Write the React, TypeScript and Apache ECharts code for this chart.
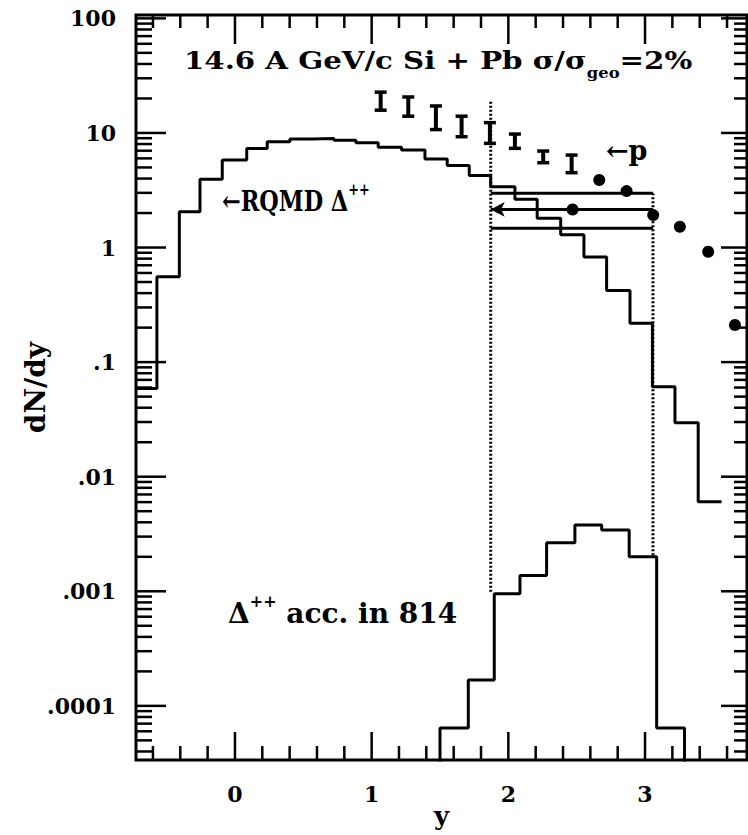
import React, { useEffect, useRef } from "react";
import * as echarts from "echarts";

// ---- axis ranges ----
const X_MIN = -0.724;
const X_MAX = 3.746;
const Y_MIN = 3.37e-5;
const Y_MAX = 107;

// ---- tick values and labels ----
const xMajorTicks = [0, 1, 2, 3];
const xTickLabels = ["0", "1", "2", "3"];
const xMinorTicks = [-0.6, -0.4, -0.2, 0.2, 0.4, 0.6, 0.8, 1.2, 1.4, 1.6, 1.8, 2.2, 2.4, 2.6, 2.8, 3.2, 3.4, 3.6];
const yDecades = [1e-4, 1e-3, 1e-2, 1e-1, 1, 10, 100];
const yTickLabels = [".0001", ".001", ".01", ".1", "1", "10", "100"];
const yMinorBases = [1e-5, 1e-4, 1e-3, 1e-2, 1e-1, 1, 10];
const yMinorMultipliers = [2, 3, 4, 5, 6, 7, 8, 9];

// ---- RQMD Delta++ histogram (bin edges in y, dN/dy) ----
const rqmdEdges = [-0.724, -0.571, -0.407, -0.256, -0.093, 0.086, 0.236, 0.402, 0.563, 0.724, 0.885, 1.048, 1.219, 1.39, 1.553, 1.714, 1.871, 2.048, 2.211, 2.383, 2.553, 2.719, 2.89, 3.054, 3.219, 3.389, 3.56];
const rqmdValues = [0.059, 0.556, 2.05, 3.94, 5.8, 7.33, 8.4, 8.85, 8.93, 8.62, 8.2, 7.5, 7.1, 5.92, 5.2, 4.25, 3.4, 2.64, 1.8, 1.29, 0.828, 0.421, 0.218, 0.061, 0.0296, 0.00605];

// ---- Delta++ accepted in E814 ----
const accEdges = [1.5, 1.707, 1.897, 2.085, 2.28, 2.487, 2.683, 2.884, 3.085, 3.289];
const accValues = [6.4e-5, 1.68e-4, 9.5e-4, 1.37e-3, 2.65e-3, 3.79e-3, 3.43e-3, 2.0e-3, 6.4e-5];

// ---- proton data: error bars ----
const pBarY = [1.066, 1.268, 1.47, 1.658, 1.865, 2.048, 2.255, 2.463];
const pBarLow = [15.8, 14.0, 10.7, 9.27, 8.11, 7.34, 5.5, 4.5];
const pBarHigh = [22.7, 20.6, 17.2, 14.0, 12.3, 9.78, 6.95, 6.41];
// ---- proton data: filled circles ----
const pDotY = [2.665, 2.865, 3.06, 3.255, 3.462, 3.658];
const pDotV = [3.88, 3.11, 1.92, 1.52, 0.918, 0.211];

// ---- acceptance window ----
const accWindowY = [1.871, 3.058];
const accWindowTop = [18.7, 2.97];
const accWindowBottom = [9.5e-4, 2.0e-3];
const bandValues = [2.97, 2.15, 1.47];
const bandArrow = [false, true, false];
const bandDotY = [2.47];
const bandDotV = [2.15];

const FONT = '"DejaVu Serif", serif';
const GRID = { left: 136, top: 15, width: 611, height: 745 };

function stepPoints(edges: number[], values: number[], startFloor: boolean, endFloor: boolean) {
  const pts: number[][] = [];
  if (startFloor) pts.push([edges[0], Y_MIN * 0.5]);
  for (let i = 0; i < values.length; i++) {
    pts.push([edges[i], values[i]]);
    pts.push([edges[i + 1], values[i]]);
  }
  if (endFloor) pts.push([edges[edges.length - 1], Y_MIN * 0.5]);
  return pts;
}

export default function App() {
  const ref = useRef<HTMLDivElement>(null);
  useEffect(() => {
    if (!ref.current) return;
    const chart = echarts.init(ref.current, undefined, { renderer: "svg" });
    const black = "#000";
    const series: any[] = [];

    // ---- frame ticks as short line segments (lengths in px converted to axis units) ----
    const decadePx = GRID.height / Math.log10(Y_MAX / Y_MIN);
    const unitPx = GRID.width / (X_MAX - X_MIN);
    const tickSeries = (pts: number[][]) => ({
      type: "line", data: pts, symbol: "none", showSymbol: false, silent: true, z: 6, clip: false,
      lineStyle: { color: black, width: 2.5, opacity: 1 },
    });
    const addX = (xv: number, major: boolean) => {
      const lb = major ? 28 : 14;
      const lt = major ? 29 : 13;
      series.push(tickSeries([[xv, Y_MIN], [xv, Y_MIN * Math.pow(10, lb / decadePx)]]));
      series.push(tickSeries([[xv, Y_MAX], [xv, Y_MAX / Math.pow(10, lt / decadePx)]]));
    };
    xMajorTicks.forEach((v) => addX(v, true));
    xMinorTicks.forEach((v) => addX(v, false));
    const addY = (yv: number, major: boolean) => {
      const ll = major ? 30 : 16;
      const lr = major ? 26 : 13;
      series.push(tickSeries([[X_MIN, yv], [X_MIN + ll / unitPx, yv]]));
      series.push(tickSeries([[X_MAX, yv], [X_MAX - lr / unitPx, yv]]));
    };
    yDecades.forEach((v) => addY(v, true));
    yMinorBases.forEach((b) => yMinorMultipliers.forEach((m) => {
      const v = b * m;
      if (v > Y_MIN && v < Y_MAX) addY(v, false);
    }));

    // RQMD histogram
    series.push({
      type: "line", data: stepPoints(rqmdEdges, rqmdValues, false, false), showSymbol: false, symbol: "none",
      lineStyle: { color: black, width: 3 }, clip: true,
    });
    // accepted histogram
    series.push({
      type: "line", data: stepPoints(accEdges, accValues, true, true), showSymbol: false, symbol: "none",
      lineStyle: { color: black, width: 3 }, clip: true,
    });
    // dotted acceptance window lines
    accWindowY.forEach((xv, i) => {
      series.push({
        type: "line", data: [[xv, accWindowTop[i]], [xv, accWindowBottom[i]]], symbol: "none",
        lineStyle: { color: black, width: 3, type: [2, 2] },
      });
    });
    // horizontal bands
    bandValues.forEach((v, i) => {
      series.push({
        type: "line",
        data: [
          bandArrow[i]
            ? { value: [accWindowY[0], v], symbol: "arrow", symbolSize: [11, 14], symbolRotate: 90 }
            : { value: [accWindowY[0], v], symbol: "none" },
          { value: [accWindowY[1], v], symbol: "none" },
        ],
        showAllSymbol: true,
        itemStyle: { color: black, opacity: 1 },
        lineStyle: { color: black, width: 3 },
      });
    });
    // band marker dots
    series.push({
      type: "scatter", data: bandDotY.map((xv, i) => [xv, bandDotV[i]]),
      symbol: "circle", symbolSize: 12, itemStyle: { color: black, opacity: 1 },
    });
    // proton error bars
    series.push({
      type: "custom", coordinateSystem: "cartesian2d",
      data: pBarY.map((xv, i) => [xv, pBarLow[i], pBarHigh[i]]),
      encode: { x: 0, y: [1, 2] },
      renderItem: (params: any, api: any) => {
        const xv = api.value(0);
        const lo = api.coord([xv, api.value(1)]);
        const hi = api.coord([xv, api.value(2)]);
        const w = 6;
        return {
          type: "group", children: [
            { type: "line", shape: { x1: lo[0], y1: lo[1], x2: hi[0], y2: hi[1] }, style: { stroke: black, lineWidth: 4 } },
            { type: "line", shape: { x1: lo[0] - w, y1: lo[1], x2: lo[0] + w, y2: lo[1] }, style: { stroke: black, lineWidth: 3.5 } },
            { type: "line", shape: { x1: hi[0] - w, y1: hi[1], x2: hi[0] + w, y2: hi[1] }, style: { stroke: black, lineWidth: 3.5 } },
          ],
        };
      },
    });
    // proton filled circles
    series.push({
      type: "scatter", data: pDotY.map((xv, i) => [xv, pDotV[i]]),
      symbol: "circle", symbolSize: 12, itemStyle: { color: black, opacity: 1 },
    });

    const labelFont = { color: black, fontFamily: FONT, fontWeight: "bold" as const, fontSize: 22 };

    const texts: any[] = [
      {
        type: "text", x: 184, y: 40, scaleX: 1.17,
        style: {
          text: "14.6 A GeV/c Si + Pb σ/σ{sub|geo}=2%",
          fill: black, fontFamily: FONT, fontSize: 25, fontWeight: "bold", lineHeight: 40, verticalAlign: "top",
          rich: { sub: { fontFamily: FONT, fontSize: 14, fontWeight: "bold", lineHeight: 14, verticalAlign: "bottom", fill: black } },
        },
      },
      {
        type: "text", x: 222, y: 181, scaleX: 0.8,
        style: {
          text: "←RQMD Δ{sup|++}",
          fill: black, fontFamily: FONT, fontSize: 28, fontWeight: "bold", lineHeight: 40, verticalAlign: "top",
          rich: { sup: { fontFamily: FONT, fontSize: 16, fontWeight: "bold", lineHeight: 16, verticalAlign: "top", fill: black } },
        },
      },
      {
        type: "text", x: 606, y: 130,
        style: { text: "←p", fill: black, fontFamily: FONT, fontSize: 27, fontWeight: "bold", lineHeight: 40, verticalAlign: "top" },
      },
      {
        type: "text", x: 228, y: 593,
        style: {
          text: "Δ{sup|++} acc. in 814",
          fill: black, fontFamily: FONT, fontSize: 28, fontWeight: "bold", lineHeight: 40, verticalAlign: "top",
          rich: { sup: { fontFamily: FONT, fontSize: 16, fontWeight: "bold", lineHeight: 16, verticalAlign: "top", fill: black } },
        },
      },
    ];

    chart.setOption({
      animation: false,
      backgroundColor: "#fff",
      grid: {
        ...GRID, show: true, borderColor: black, borderWidth: 3,
        backgroundColor: "transparent", containLabel: false, outerBoundsMode: "none",
      },
      xAxis: {
        type: "value", min: X_MIN, max: X_MAX, splitNumber: 5,
        axisLine: { show: false }, axisTick: { show: false }, splitLine: { show: false },
        axisLabel: {
          ...labelFont, margin: 23,
          formatter: (v: number) => {
            const i = xMajorTicks.findIndex((t) => Math.abs(t - v) < 1e-6);
            return i >= 0 ? xTickLabels[i] : "";
          },
        },
        name: "y", nameLocation: "middle", nameGap: 43, nameMoveOverlap: false,
        nameTextStyle: { color: black, fontFamily: FONT, fontWeight: "bold", fontSize: 26 },
      },
      yAxis: {
        type: "log", logBase: 10, min: Y_MIN, max: Y_MAX,
        axisLine: { show: false }, axisTick: { show: false }, splitLine: { show: false },
        axisLabel: {
          ...labelFont, margin: 20,
          formatter: (v: number) => {
            const i = yDecades.findIndex((d) => Math.abs(Math.log10(v) - Math.log10(d)) < 1e-6);
            return i >= 0 ? yTickLabels[i] : "";
          },
        },
        name: "dN/dy", nameLocation: "middle", nameGap: 87, nameRotate: 90, nameMoveOverlap: false,
        nameTextStyle: { color: black, fontFamily: FONT, fontWeight: "bold", fontSize: 28 },
      },
      graphic: texts,
      series,
    });
    return () => chart.dispose();
  }, []);
  return <div ref={ref} style={{ position: "fixed", left: 0, top: 0, width: 748, height: 835 }} />;
}
